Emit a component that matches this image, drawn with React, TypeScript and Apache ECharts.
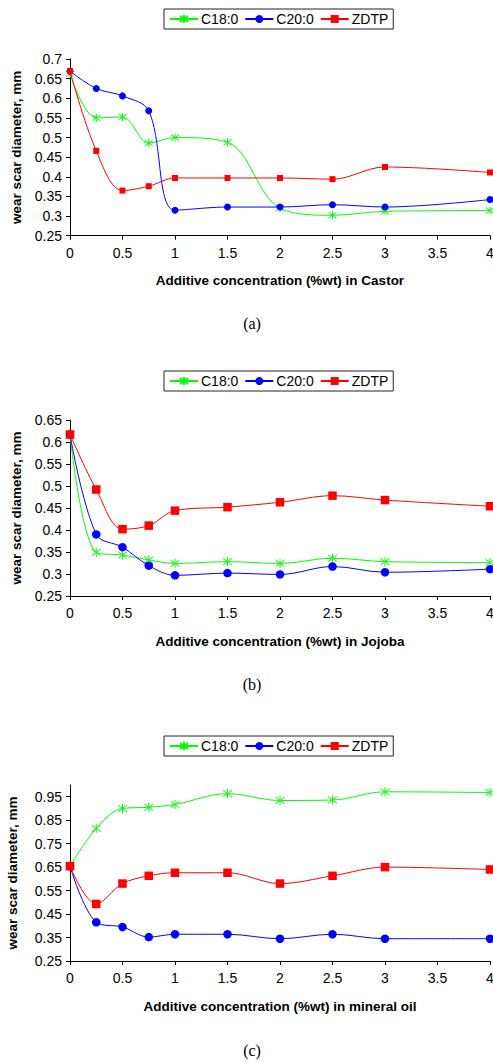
import React, { useEffect, useRef } from "react";
import * as echarts from "echarts";

const concentrations = [0, 0.25, 0.5, 0.75, 1, 1.5, 2, 2.5, 3, 4];
const seriesNames = ["C18:0", "C20:0", "ZDTP"];

const castorC18 = [0.662, 0.55, 0.552, 0.486, 0.5, 0.488, 0.32, 0.302, 0.312, 0.314];
const castorC20 = [0.669, 0.625, 0.606, 0.568, 0.315, 0.323, 0.323, 0.329, 0.323, 0.342];
const castorZDTP = [0.669, 0.466, 0.365, 0.376, 0.397, 0.397, 0.397, 0.394, 0.425, 0.411];

const jojobaC18 = [0.616, 0.349, 0.343, 0.332, 0.324, 0.328, 0.324, 0.336, 0.328, 0.326];
const jojobaC20 = [0.617, 0.39, 0.361, 0.319, 0.297, 0.302, 0.299, 0.317, 0.304, 0.311];
const jojobaZDTP = [0.617, 0.492, 0.402, 0.41, 0.444, 0.452, 0.463, 0.478, 0.468, 0.454];

const mineralC18 = [0.654, 0.815, 0.9, 0.905, 0.917, 0.963, 0.934, 0.936, 0.971, 0.968];
const mineralC20 = [0.654, 0.415, 0.395, 0.352, 0.364, 0.364, 0.345, 0.364, 0.345, 0.345];
const mineralZDTP = [0.654, 0.493, 0.58, 0.613, 0.626, 0.626, 0.58, 0.613, 0.65, 0.64];

const mineralYTicks = [0.25, 0.35, 0.45, 0.55, 0.65, 0.75, 0.85, 0.95];

const xTitles = [
  "Additive concentration (%wt) in Castor",
  "Additive concentration (%wt) in Jojoba",
  "Additive concentration (%wt) in mineral oil",
];
const panelLabels = ["(a)", "(b)", "(c)"];

const colors = ["#00ff00", "#0000ff", "#ff0000"];
const STAR = "path://M5,0L5,10M1.2,1.2L8.8,8.8M1.2,8.8L8.8,1.2";
const FONT = "Liberation Sans, Arial, sans-serif";

export default function App() {
  const ref = useRef<HTMLDivElement>(null);
  useEffect(() => {
    if (!ref.current) return;
    const chart = echarts.init(ref.current, null, { renderer: "svg" });

    const panels = [
      { data: [castorC18, castorC20, castorZDTP], top: 59, bottom: 235.7, legendTop: 9, min: 0.25, max: 0.7, interval: 0.05, small: true, yGap: 45, labelY: 323 },
      { data: [jojobaC18, jojobaC20, jojobaZDTP], top: 420, bottom: 596, legendTop: 371, min: 0.25, max: 0.65, interval: 0.05, small: false, yGap: 45, labelY: 684 },
      { data: [mineralC18, mineralC20, mineralZDTP], top: 785, bottom: 961, legendTop: 736, min: 0.25, max: 1.0, interval: 0, small: false, yGap: 51, labelY: 1050 },
    ];

    const grid: any[] = [];
    const xAxis: any[] = [];
    const yAxis: any[] = [];
    const legend: any[] = [];
    const series: any[] = [];
    const graphic: any[] = [];

    panels.forEach((p, i) => {
      grid.push({
        left: 70,
        width: 420,
        top: p.top,
        height: p.bottom - p.top,
        containLabel: false,
        outerBoundsMode: "none",
      });
      xAxis.push({
        type: "value",
        gridIndex: i,
        min: 0,
        max: 4,
        interval: 0.5,
        name: xTitles[i],
        nameLocation: "middle",
        nameGap: 38,
        nameTextStyle: { fontFamily: FONT, fontSize: 13.5, fontWeight: "bold", color: "#000" },
        axisLine: { lineStyle: { color: "#000", width: 1 } },
        axisTick: { show: true, inside: false, length: 4, lineStyle: { color: "#000" } },
        axisLabel: { fontFamily: FONT, fontSize: 14, color: "#000", margin: 10 },
        splitLine: { show: false },
      });
      const y: any = {
        type: "value",
        gridIndex: i,
        min: p.min,
        max: p.max,
        name: "wear scar diameter, mm",
        nameLocation: "middle",
        nameGap: p.yGap,
        nameRotate: 90,
        nameTextStyle: { fontFamily: FONT, fontSize: 13.5, fontWeight: "bold", color: "#000" },
        axisLine: { show: true, lineStyle: { color: "#000", width: 1 } },
        axisTick: { show: true, inside: false, length: 4, lineStyle: { color: "#000" } },
        axisLabel: { fontFamily: FONT, fontSize: 14, color: "#000", margin: 8 },
        splitLine: { show: false },
      };
      if (p.interval) {
        y.interval = p.interval;
      } else {
        y.axisLabel.customValues = mineralYTicks;
        y.axisTick.customValues = mineralYTicks;
      }
      yAxis.push(y);

      legend.push({
        left: 164,
        top: p.legendTop,
        orient: "horizontal",
        data: seriesNames,
        backgroundColor: "#fff",
        borderColor: "#222",
        borderWidth: 1,
        borderRadius: 0,
        padding: [3, 5, 3, 5],
        itemGap: 6,
        itemWidth: 28,
        itemHeight: 10,
        textStyle: { fontFamily: FONT, fontSize: 14, color: "#000", padding: [0, 0, 0, -2] },
        selectedMode: false,
      });

      const symSizes = p.small ? [8, 7, 6] : [9, 8.5, 8.5];
      const symbols = [STAR, "circle", "rect"];
      seriesNames.forEach((name, k) => {
        series.push({
          type: "line",
          name,
          xAxisIndex: i,
          yAxisIndex: i,
          smooth: 0.35,
          symbol: symbols[k],
          symbolSize: symSizes[k],
          showSymbol: true,
          color: colors[k],
          lineStyle: { color: colors[k], width: 1 },
          itemStyle:
            k === 0
              ? { color: "transparent", borderColor: colors[k], borderWidth: 1 }
              : { color: colors[k], borderWidth: 0 },
          data: concentrations.map((x, j) => [x, p.data[k][j]]),
          z: 2 + k,
        });
      });

      graphic.push({
        type: "text",
        x: 252,
        y: p.labelY,
        style: {
          text: panelLabels[i],
          font: '16px "Liberation Serif", "Times New Roman", serif',
          fill: "#000",
          textAlign: "center",
          textVerticalAlign: "middle",
        },
      });
    });

    chart.setOption({
      animation: false,
      backgroundColor: "#fff",
      grid,
      xAxis,
      yAxis,
      legend,
      series,
      graphic,
    });

    return () => chart.dispose();
  }, []);

  return (
    <div
      ref={ref}
      style={{ position: "fixed", left: 0, top: 0, width: 493, height: 1062, background: "#fff" }}
    />
  );
}
